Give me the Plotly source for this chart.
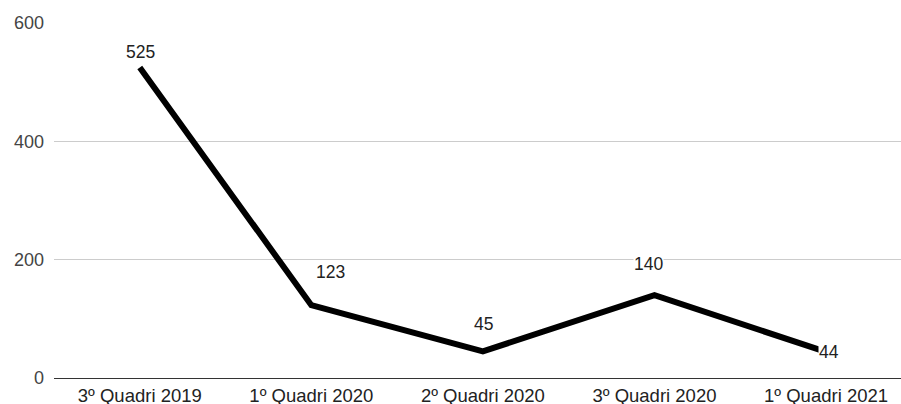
import plotly.graph_objects as go

# Quarterly counts
periods = ["3º Quadri 2019", "1º Quadri 2020", "2º Quadri 2020", "3º Quadri 2020", "1º Quadri 2021"]
counts = [525, 123, 45, 140, 44]
y_ticks = [0, 200, 400, 600]

# Label offsets in pixels (dx, dy) relative to each point
label_offsets = [(1, 15), (19, 33), (1, 27), (-6, 31), (3, 0)]

FONT = "Arial, Liberation Sans, sans-serif"

fig = go.Figure()
fig.add_trace(go.Scatter(
    x=list(range(len(periods))),
    y=counts,
    mode="lines",
    line=dict(color="#000000", width=6),
    hoverinfo="skip",
))

for i, (v, (dx, dy)) in enumerate(zip(counts, label_offsets)):
    fig.add_annotation(
        x=i, y=v, text=str(v), showarrow=False,
        xshift=dx, yshift=dy,
        font=dict(family=FONT, size=17.5, color="#222222"),
        bgcolor="white",
        borderpad=0,
    )

fig.update_layout(
    width=901, height=404,
    margin=dict(l=54, r=0, t=23, b=26),
    paper_bgcolor="white", plot_bgcolor="white",
    showlegend=False,
    font=dict(family=FONT, size=18, color="#222222"),
    xaxis=dict(
        range=[-0.5, 4.437],
        tickmode="array",
        tickvals=list(range(len(periods))),
        ticktext=periods,
        showgrid=False, zeroline=False, showline=False,
        ticks="", ticklen=0,
        ticklabelstandoff=4,
        automargin=False,
        tickfont=dict(family=FONT, size=18.5, color="#222222"),
    ),
    yaxis=dict(
        range=[0, 600],
        tickmode="array",
        tickvals=y_ticks,
        showgrid=True, gridcolor="#cccccc", gridwidth=1,
        zeroline=True, zerolinecolor="#333333", zerolinewidth=1,
        showline=False, ticks="",
        ticklabelstandoff=9,
        automargin=False,
        tickfont=dict(family=FONT, size=18, color="#444444"),
    ),
)

fig.write_html("out.html")
